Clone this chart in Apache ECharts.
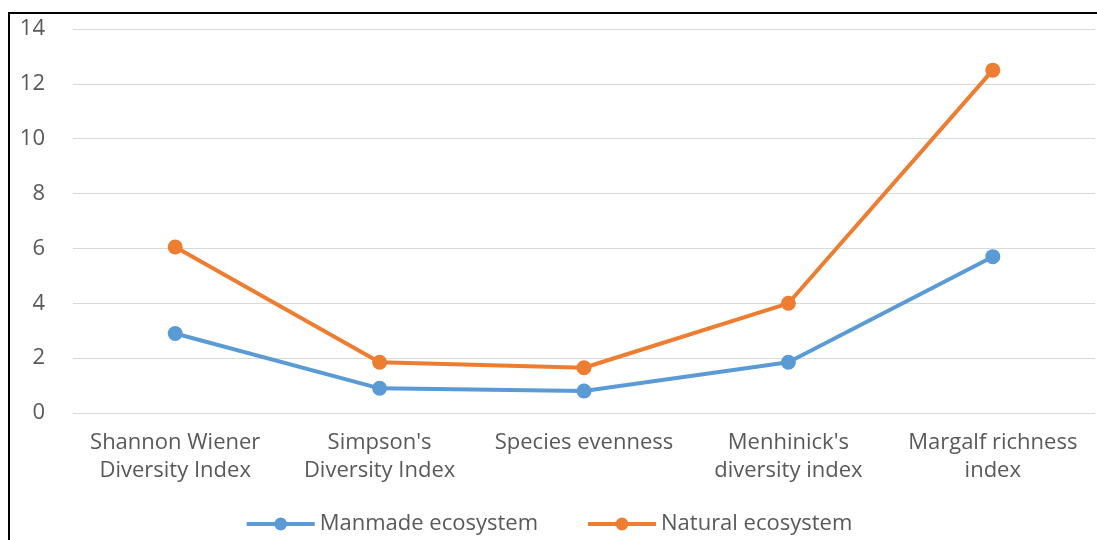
<!DOCTYPE html>
<html><head><meta charset="utf-8">
<script src="https://cdn.jsdelivr.net/npm/echarts@6/dist/echarts.min.js"></script>
<style>html,body{margin:0;padding:0;background:#fff;}#c{width:1097px;height:540px;}</style>
</head><body><div id="c"></div>
<script>
const categories = ["Shannon Wiener\nDiversity Index", "Simpson's\nDiversity Index", "Species evenness", "Menhinick's\ndiversity index", "Margalf richness\nindex"];
const manmade = [2.9, 0.9, 0.8, 1.85, 5.7];
const natural = [6.05, 1.85, 1.65, 4.0, 12.5];
const yTicks = [0, 2, 4, 6, 8, 10, 12, 14];
const FONT = "Open Sans";
const chart = echarts.init(document.getElementById('c'));
chart.setOption({
  animation: false,
  textStyle: {fontFamily: FONT},
  graphic: [{type: 'rect', shape: {x: 9, y: 13, width: 1100, height: 540}, style: {fill: 'none', stroke: '#000', lineWidth: 2}, z: -1}],
  grid: {left: 73, right: 2, top: 29, bottom: 127},
  xAxis: {type: 'category', data: categories, boundaryGap: true,
    axisLine: {show: false}, axisTick: {show: false},
    axisLabel: {color: '#595959', fontSize: 22, lineHeight: 28, margin: 16, interval: 0, fontFamily: FONT}},
  yAxis: {type: 'value', min: 0, max: 14, interval: 2,
    axisLine: {show: false}, axisTick: {show: false},
    splitLine: {lineStyle: {color: '#d9d9d9', width: 1}},
    axisLabel: {color: '#595959', fontSize: 22, margin: 28, fontFamily: FONT,
      formatter: v => yTicks.includes(v) ? String(v) : ''}},
  legend: {bottom: 0, left: 'center', itemWidth: 68, itemHeight: 16, itemGap: 48,
    lineStyle: {width: 4},
    textStyle: {color: '#595959', fontSize: 22, fontFamily: FONT}},
  series: [
    {name: 'Manmade ecosystem', type: 'line', data: manmade, symbol: 'circle', symbolSize: 15,
      lineStyle: {color: '#5B9BD5', width: 4}, itemStyle: {color: '#5B9BD5'}},
    {name: 'Natural ecosystem', type: 'line', data: natural, symbol: 'circle', symbolSize: 15,
      lineStyle: {color: '#ED7D31', width: 4}, itemStyle: {color: '#ED7D31'}}
  ]
});
</script></body></html>
